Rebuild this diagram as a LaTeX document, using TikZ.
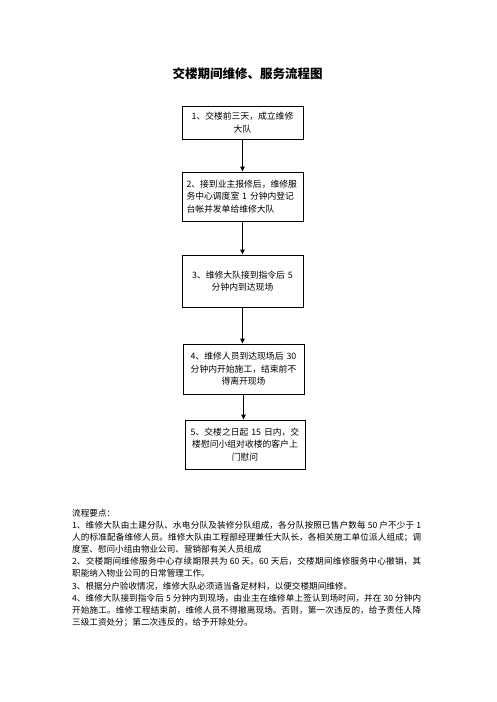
\documentclass[tikz,border=0pt]{standalone}
\usepackage{fontspec}
\setmainfont{Noto Sans CJK SC}
\usetikzlibrary{arrows.meta}
\XeTeXlinebreaklocale "zh"
\XeTeXlinebreakskip=0pt plus 1pt
\tikzset{
  stepbox/.style={draw=black, line width=0.9pt, inner sep=0pt, minimum width=121pt,
    text width=116pt, align=center, font=\fontsize{8.8}{12.5}\selectfont,
    execute at begin node={\XeTeXlinebreakskip=0pt\relax}},
  arr/.style={draw=black, line width=0.9pt, -{Triangle[length=5pt,width=4.5pt]}}
}
\begin{document}
\begin{tikzpicture}[x=1pt,y=1pt]
\useasboundingbox (0,0) rectangle (496,-702);
\fill[white] (0,0) rectangle (496,-702);
\node[font=\fontsize{12.5}{14}\selectfont\bfseries, inner sep=0pt] (title) at (247.5,-74) {交楼期间维修、服务流程图};
\node[stepbox, minimum height=33pt] (b1) at (242.5,-122.5) {1、交楼前三天，成立维修\\大队};
\node[stepbox, minimum height=49pt, align=left, text width=112pt] (b2) at (242.5,-196.5) {2、接到业主报修后，维修服\\务中心调度室 1 分钟内登记\\台帐并发单给维修大队};
\node[stepbox, minimum height=52pt] (b3) at (242.5,-281) {3、维修大队接到指令后 5\\分钟内到达现场};
\node[stepbox, minimum height=50pt] (b4) at (243.5,-369) {4、维修人员到达现场后 30\\分钟内开始施工，结束前不\\得离开现场};
\node[stepbox, minimum height=49pt, minimum width=120pt] (b5) at (245,-444.5) {5、交楼之日起 15 日内，交\\楼慰问小组对收楼的客户上\\门慰问};
\draw[arr] (b1.south) -- (b1.south |- b2.north);
\draw[arr] (b2.south) -- (b2.south |- b3.north);
\draw[arr] (b3.south) -- (b3.south |- b4.north);
\draw[arr] (b4.south) -- (b4.south |- b5.north);
\node[anchor=north west, inner sep=0pt, text width=349pt, align=justify,
  font=\fontsize{8.6}{12.1}\selectfont] (notes) at (72,-509) {%
流程要点：\par
1、维修大队由土建分队、水电分队及装修分队组成，各分队按照已售户数每 50 户不少于 1\linebreak%
人的标准配备维修人员。维修大队由工程部经理兼任大队长，各相关施工单位派人组成；调\linebreak%
度室、慰问小组由物业公司、营销部有关人员组成\par
2、交楼期间维修服务中心存续期限共为 60 天。60 天后，交楼期间维修服务中心撤销，其\linebreak%
职能纳入物业公司的日常管理工作。\par
3、根据分户验收情况，维修大队必须适当备足材料，以便交楼期间维修。\par
4、维修大队接到指令后 5 分钟内到现场，由业主在维修单上签认到场时间，并在 30 分钟内\linebreak%
开始施工。维修工程结束前，维修人员不得撤离现场。否则，第一次违反的，给予责任人降\linebreak%
三级工资处分；第二次违反的，给予开除处分。};
\end{tikzpicture}
\end{document}
